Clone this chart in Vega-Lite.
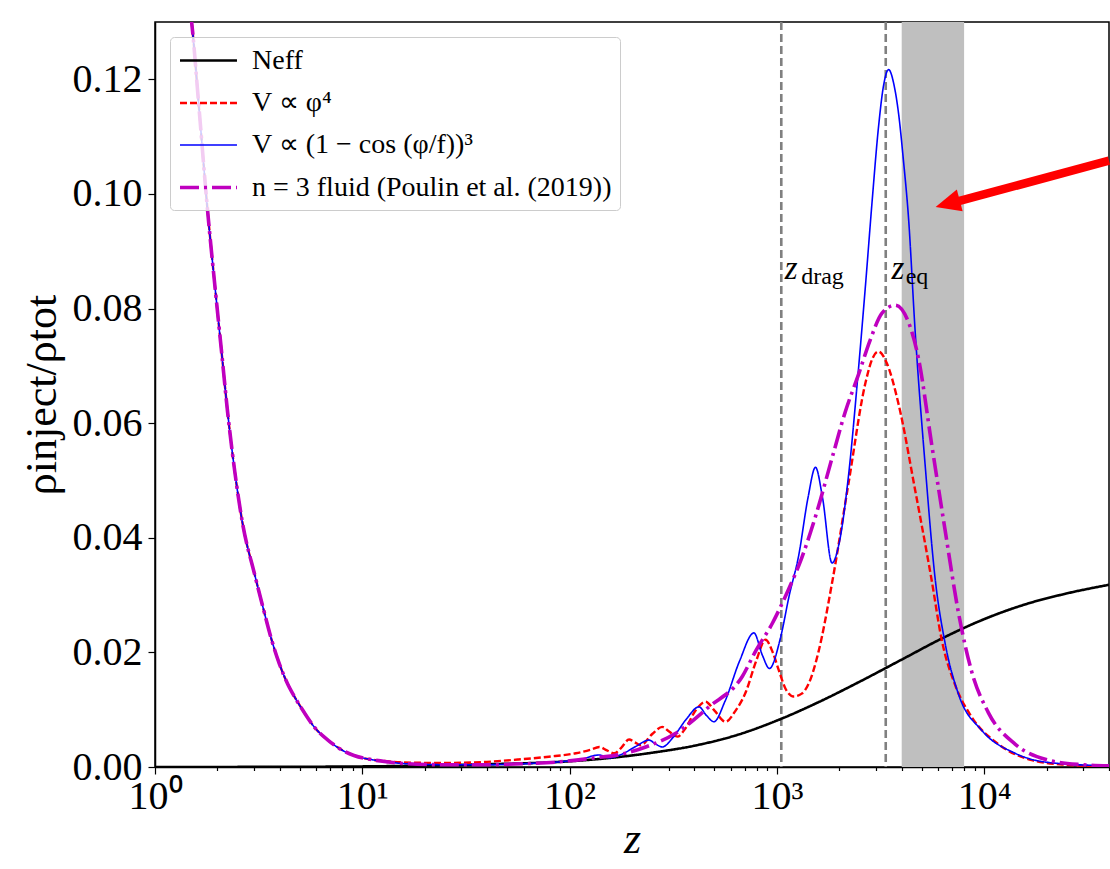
{
  "$schema": "https://vega.github.io/schema/vega-lite/v6.json",
  "width": 954,
  "height": 745,
  "autosize": {"type": "none"},
  "padding": {"left": 155, "top": 22, "right": 1, "bottom": 102},
  "background": "white",
  "config": {
    "font": "Liberation Serif",
    "view": {"stroke": "black", "strokeWidth": 1.5},
    "axis": {
      "grid": false,
      "labelFont": "Liberation Serif",
      "titleFont": "Liberation Serif",
      "labelFontSize": 40,
      "labelColor": "black",
      "titleColor": "black",
      "titleFontWeight": "normal",
      "domainColor": "black",
      "domainWidth": 1.5,
      "tickColor": "black",
      "tickWidth": 1.2
    },
    "legend": {
      "orient": "top-left",
      "offset": 15,
      "symbolType": "M -1 0 L 3.07 0",
      "symbolSize": 784,
      "labelFont": "Liberation Serif",
      "labelFontSize": 28,
      "labelColor": "black",
      "labelLimit": 600,
      "labelOffset": 42,
      "fillColor": "rgba(255,255,255,0.8)",
      "strokeColor": "#cccccc",
      "cornerRadius": 4,
      "padding": 8,
      "rowPadding": 12.5
    }
  },
  "layer": [
    {
      "data": {"values": [{"z1": 4000, "z2": 8000}]},
      "mark": {"type": "rect", "color": "#bfbfbf"},
      "encoding": {
        "x": {"field": "z1", "type": "quantitative", "scale": {"type": "log", "domain": [1, 40000], "nice": false}},
        "x2": {"field": "z2"}
      }
    },
    {
      "data": {"values": [{"z": 1050}, {"z": 3350}]},
      "mark": {"type": "rule", "color": "#808080", "strokeWidth": 2.6, "strokeDash": [8, 4]},
      "encoding": {
        "x": {"field": "z", "type": "quantitative", "scale": {"type": "log", "domain": [1, 40000], "nice": false}}
      }
    },
    {
      "data": {"values": [
        {"s": "a", "z": 1, "v": 0},
        {"s": "a", "z": 3.162, "v": 0.00002},
        {"s": "a", "z": 10, "v": 0.0001},
        {"s": "a", "z": 31.62, "v": 0.0004},
        {"s": "a", "z": 100, "v": 0.0010},
        {"s": "a", "z": 158.5, "v": 0.0016},
        {"s": "a", "z": 251.2, "v": 0.0025},
        {"s": "a", "z": 398.1, "v": 0.0037},
        {"s": "a", "z": 631.0, "v": 0.0055},
        {"s": "a", "z": 1000, "v": 0.0081},
        {"s": "a", "z": 1585, "v": 0.0113},
        {"s": "a", "z": 2512, "v": 0.0149},
        {"s": "a", "z": 3981, "v": 0.0187},
        {"s": "a", "z": 6310, "v": 0.0225},
        {"s": "a", "z": 10000, "v": 0.0258},
        {"s": "a", "z": 15849, "v": 0.0284},
        {"s": "a", "z": 25119, "v": 0.0303},
        {"s": "a", "z": 40000, "v": 0.0318},

        {"s": "b", "z": 1.413, "v": 0.1366},
        {"s": "b", "z": 1.502, "v": 0.130},
        {"s": "b", "z": 1.622, "v": 0.116},
        {"s": "b", "z": 1.774, "v": 0.099},
        {"s": "b", "z": 1.995, "v": 0.080},
        {"s": "b", "z": 2.094, "v": 0.0725},
        {"s": "b", "z": 2.239, "v": 0.062},
        {"s": "b", "z": 2.427, "v": 0.0515},
        {"s": "b", "z": 2.630, "v": 0.043},
        {"s": "b", "z": 3.030, "v": 0.0335},
        {"s": "b", "z": 3.311, "v": 0.028},
        {"s": "b", "z": 3.631, "v": 0.0225},
        {"s": "b", "z": 3.981, "v": 0.018},
        {"s": "b", "z": 4.365, "v": 0.0145},
        {"s": "b", "z": 4.721, "v": 0.0122},
        {"s": "b", "z": 5.248, "v": 0.0095},
        {"s": "b", "z": 5.888, "v": 0.0069},
        {"s": "b", "z": 6.823, "v": 0.0047},
        {"s": "b", "z": 7.943, "v": 0.0030},
        {"s": "b", "z": 9.120, "v": 0.0020},
        {"s": "b", "z": 11.04, "v": 0.0013},
        {"s": "b", "z": 13.18, "v": 0.0010},
        {"s": "b", "z": 15.85, "v": 0.0008},
        {"s": "b", "z": 25.12, "v": 0.0007},
        {"s": "b", "z": 39.81, "v": 0.0009},
        {"s": "b", "z": 56.23, "v": 0.0013},
        {"s": "b", "z": 79.43, "v": 0.0018},
        {"s": "b", "z": 107.2, "v": 0.0024},
        {"s": "b", "z": 125.9, "v": 0.0030},
        {"s": "b", "z": 139.0, "v": 0.0035},
        {"s": "b", "z": 151.4, "v": 0.0029},
        {"s": "b", "z": 164.1, "v": 0.0024},
        {"s": "b", "z": 177.8, "v": 0.0034},
        {"s": "b", "z": 193.6, "v": 0.0048},
        {"s": "b", "z": 206.5, "v": 0.0043},
        {"s": "b", "z": 220.3, "v": 0.0038},
        {"s": "b", "z": 251.2, "v": 0.0058},
        {"s": "b", "z": 279.9, "v": 0.0070},
        {"s": "b", "z": 302.0, "v": 0.0062},
        {"s": "b", "z": 331.1, "v": 0.0053},
        {"s": "b", "z": 363.1, "v": 0.0068},
        {"s": "b", "z": 407.4, "v": 0.0100},
        {"s": "b", "z": 452.9, "v": 0.0114},
        {"s": "b", "z": 501.2, "v": 0.0098},
        {"s": "b", "z": 564.9, "v": 0.0079},
        {"s": "b", "z": 631.0, "v": 0.0098},
        {"s": "b", "z": 706.3, "v": 0.0130},
        {"s": "b", "z": 794.3, "v": 0.0185},
        {"s": "b", "z": 881.0, "v": 0.0222},
        {"s": "b", "z": 955.0, "v": 0.0200},
        {"s": "b", "z": 1021, "v": 0.0169},
        {"s": "b", "z": 1096, "v": 0.0138},
        {"s": "b", "z": 1205, "v": 0.0123},
        {"s": "b", "z": 1318, "v": 0.0128},
        {"s": "b", "z": 1426, "v": 0.0146},
        {"s": "b", "z": 1585, "v": 0.0200},
        {"s": "b", "z": 1845, "v": 0.0321},
        {"s": "b", "z": 2218, "v": 0.0496},
        {"s": "b", "z": 2673, "v": 0.0670},
        {"s": "b", "z": 2884, "v": 0.0712},
        {"s": "b", "z": 3090, "v": 0.0725},
        {"s": "b", "z": 3388, "v": 0.0705},
        {"s": "b", "z": 3864, "v": 0.0633},
        {"s": "b", "z": 4645, "v": 0.0483},
        {"s": "b", "z": 5585, "v": 0.0325},
        {"s": "b", "z": 6237, "v": 0.0222},
        {"s": "b", "z": 7244, "v": 0.0143},
        {"s": "b", "z": 8710, "v": 0.0087},
        {"s": "b", "z": 11695, "v": 0.0040},
        {"s": "b", "z": 16943, "v": 0.0012},
        {"s": "b", "z": 24490, "v": 0.0004},
        {"s": "b", "z": 40000, "v": 0.0001},

        {"s": "c", "z": 1.413, "v": 0.1366},
        {"s": "c", "z": 1.502, "v": 0.130},
        {"s": "c", "z": 1.622, "v": 0.116},
        {"s": "c", "z": 1.774, "v": 0.099},
        {"s": "c", "z": 1.995, "v": 0.080},
        {"s": "c", "z": 2.094, "v": 0.0725},
        {"s": "c", "z": 2.239, "v": 0.062},
        {"s": "c", "z": 2.427, "v": 0.0515},
        {"s": "c", "z": 2.630, "v": 0.043},
        {"s": "c", "z": 3.030, "v": 0.0335},
        {"s": "c", "z": 3.311, "v": 0.028},
        {"s": "c", "z": 3.631, "v": 0.0225},
        {"s": "c", "z": 3.981, "v": 0.018},
        {"s": "c", "z": 4.365, "v": 0.0145},
        {"s": "c", "z": 4.721, "v": 0.0122},
        {"s": "c", "z": 5.248, "v": 0.0095},
        {"s": "c", "z": 5.888, "v": 0.0069},
        {"s": "c", "z": 6.823, "v": 0.0047},
        {"s": "c", "z": 7.943, "v": 0.0030},
        {"s": "c", "z": 9.120, "v": 0.0020},
        {"s": "c", "z": 11.04, "v": 0.0013},
        {"s": "c", "z": 13.18, "v": 0.0009},
        {"s": "c", "z": 15.85, "v": 0.0006},
        {"s": "c", "z": 25.12, "v": 0.0004},
        {"s": "c", "z": 39.81, "v": 0.0004},
        {"s": "c", "z": 63.10, "v": 0.0006},
        {"s": "c", "z": 89.13, "v": 0.0009},
        {"s": "c", "z": 112.2, "v": 0.0013},
        {"s": "c", "z": 139.0, "v": 0.0021},
        {"s": "c", "z": 154.9, "v": 0.0016},
        {"s": "c", "z": 177.8, "v": 0.0022},
        {"s": "c", "z": 208.9, "v": 0.0036},
        {"s": "c", "z": 241.5, "v": 0.0047},
        {"s": "c", "z": 260.0, "v": 0.0040},
        {"s": "c", "z": 279.9, "v": 0.0035},
        {"s": "c", "z": 316.2, "v": 0.0052},
        {"s": "c", "z": 363.1, "v": 0.0082},
        {"s": "c", "z": 420.7, "v": 0.0105},
        {"s": "c", "z": 457.1, "v": 0.0090},
        {"s": "c", "z": 496.6, "v": 0.0079},
        {"s": "c", "z": 562.3, "v": 0.0115},
        {"s": "c", "z": 660.7, "v": 0.0185},
        {"s": "c", "z": 774.5, "v": 0.0234},
        {"s": "c", "z": 851.1, "v": 0.0195},
        {"s": "c", "z": 920.4, "v": 0.0172},
        {"s": "c", "z": 1040, "v": 0.0225},
        {"s": "c", "z": 1148, "v": 0.0300},
        {"s": "c", "z": 1274, "v": 0.0369},
        {"s": "c", "z": 1413, "v": 0.0470},
        {"s": "c", "z": 1535, "v": 0.0523},
        {"s": "c", "z": 1660, "v": 0.0470},
        {"s": "c", "z": 1845, "v": 0.0356},
        {"s": "c", "z": 1995, "v": 0.0390},
        {"s": "c", "z": 2218, "v": 0.0510},
        {"s": "c", "z": 2455, "v": 0.0680},
        {"s": "c", "z": 2673, "v": 0.0839},
        {"s": "c", "z": 2884, "v": 0.0990},
        {"s": "c", "z": 3090, "v": 0.1116},
        {"s": "c", "z": 3273, "v": 0.1190},
        {"s": "c", "z": 3459, "v": 0.1217},
        {"s": "c", "z": 3673, "v": 0.1190},
        {"s": "c", "z": 3864, "v": 0.1140},
        {"s": "c", "z": 4074, "v": 0.1060},
        {"s": "c", "z": 4315, "v": 0.0958},
        {"s": "c", "z": 4645, "v": 0.0760},
        {"s": "c", "z": 5200, "v": 0.0523},
        {"s": "c", "z": 5794, "v": 0.0330},
        {"s": "c", "z": 6486, "v": 0.0215},
        {"s": "c", "z": 7516, "v": 0.0127},
        {"s": "c", "z": 9727, "v": 0.0064},
        {"s": "c", "z": 14093, "v": 0.0024},
        {"s": "c", "z": 20370, "v": 0.0008},
        {"s": "c", "z": 40000, "v": 0.0002},

        {"s": "d", "z": 1.413, "v": 0.1366},
        {"s": "d", "z": 1.502, "v": 0.130},
        {"s": "d", "z": 1.622, "v": 0.116},
        {"s": "d", "z": 1.774, "v": 0.099},
        {"s": "d", "z": 1.995, "v": 0.080},
        {"s": "d", "z": 2.094, "v": 0.0725},
        {"s": "d", "z": 2.239, "v": 0.062},
        {"s": "d", "z": 2.427, "v": 0.0515},
        {"s": "d", "z": 2.630, "v": 0.043},
        {"s": "d", "z": 3.030, "v": 0.0335},
        {"s": "d", "z": 3.311, "v": 0.028},
        {"s": "d", "z": 3.631, "v": 0.0225},
        {"s": "d", "z": 3.981, "v": 0.018},
        {"s": "d", "z": 4.365, "v": 0.0145},
        {"s": "d", "z": 4.721, "v": 0.0122},
        {"s": "d", "z": 5.248, "v": 0.0095},
        {"s": "d", "z": 5.888, "v": 0.0069},
        {"s": "d", "z": 6.823, "v": 0.0047},
        {"s": "d", "z": 7.943, "v": 0.0030},
        {"s": "d", "z": 9.120, "v": 0.0020},
        {"s": "d", "z": 11.04, "v": 0.0013},
        {"s": "d", "z": 13.18, "v": 0.0009},
        {"s": "d", "z": 15.85, "v": 0.0006},
        {"s": "d", "z": 25.12, "v": 0.0004},
        {"s": "d", "z": 39.81, "v": 0.0004},
        {"s": "d", "z": 63.10, "v": 0.0006},
        {"s": "d", "z": 89.13, "v": 0.0009},
        {"s": "d", "z": 125.9, "v": 0.0015},
        {"s": "d", "z": 186.6, "v": 0.0024},
        {"s": "d", "z": 232.8, "v": 0.0035},
        {"s": "d", "z": 325.1, "v": 0.0059},
        {"s": "d", "z": 469.9, "v": 0.0105},
        {"s": "d", "z": 680.8, "v": 0.0158},
        {"s": "d", "z": 794.3, "v": 0.0204},
        {"s": "d", "z": 948.4, "v": 0.0250},
        {"s": "d", "z": 1122, "v": 0.0305},
        {"s": "d", "z": 1318, "v": 0.0365},
        {"s": "d", "z": 1535, "v": 0.0437},
        {"s": "d", "z": 1845, "v": 0.0539},
        {"s": "d", "z": 2138, "v": 0.0620},
        {"s": "d", "z": 2477, "v": 0.0685},
        {"s": "d", "z": 2818, "v": 0.0745},
        {"s": "d", "z": 3214, "v": 0.0792},
        {"s": "d", "z": 3724, "v": 0.0806},
        {"s": "d", "z": 4315, "v": 0.0776},
        {"s": "d", "z": 4819, "v": 0.0713},
        {"s": "d", "z": 5585, "v": 0.0562},
        {"s": "d", "z": 6486, "v": 0.0412},
        {"s": "d", "z": 7516, "v": 0.0269},
        {"s": "d", "z": 8710, "v": 0.0166},
        {"s": "d", "z": 10471, "v": 0.0095},
        {"s": "d", "z": 14093, "v": 0.0040},
        {"s": "d", "z": 20370, "v": 0.0012},
        {"s": "d", "z": 29512, "v": 0.0004},
        {"s": "d", "z": 40000, "v": 0.0002}
      ]},
      "mark": {"type": "line", "interpolate": "monotone", "clip": true},
      "encoding": {
        "x": {
          "field": "z", "type": "quantitative",
          "scale": {"type": "log", "domain": [1, 40000], "nice": false},
          "axis": {
            "title": "z",
            "titleFontStyle": "italic",
            "titleFontSize": 44,
            "titlePadding": 1,
            "values": [1,2,3,4,5,6,7,8,9,10,20,30,40,50,60,70,80,90,100,200,300,400,500,600,700,800,900,1000,2000,3000,4000,5000,6000,7000,8000,9000,10000,20000,30000,40000],
            "labelExpr": "datum.value == 1 ? '10⁰' : datum.value == 10 ? '10¹' : datum.value == 100 ? '10²' : datum.value == 1000 ? '10³' : datum.value == 10000 ? '10⁴' : ''",
            "tickSize": {"condition": {"test": "indexof([1,10,100,1000,10000], datum.value) >= 0", "value": 7}, "value": 3.5},
            "labelPadding": 2,
            "labelFlush": false,
            "labelOverlap": false
          }
        },
        "y": {
          "field": "v", "type": "quantitative",
          "scale": {"domain": [0, 0.13], "nice": false, "zero": false},
          "axis": {
            "title": "ρinject/ρtot",
            "titleFontSize": 44,
            "titlePadding": 8,
            "values": [0, 0.02, 0.04, 0.06, 0.08, 0.1, 0.12],
            "format": ".2f",
            "tickSize": 7,
            "labelPadding": 6
          }
        },
        "color": {
          "field": "s", "type": "nominal",
          "scale": {"domain": ["a", "b", "c", "d"], "range": ["#000000", "#ff0000", "#0000ff", "#bf00bf"]},
          "legend": {
            "title": null,
            "labelExpr": "datum.label == 'a' ? 'Neff' : datum.label == 'b' ? 'V ∝ φ⁴' : datum.label == 'c' ? 'V ∝ (1 − cos (φ/f))³' : 'n = 3 fluid (Poulin et al. (2019))'"
          }
        },
        "strokeDash": {
          "field": "s", "type": "nominal",
          "scale": {"domain": ["a", "b", "c", "d"], "range": [[1, 0], [7, 3], [1, 0], [19, 5, 3, 5]]},
          "legend": {
            "title": null,
            "labelExpr": "datum.label == 'a' ? 'Neff' : datum.label == 'b' ? 'V ∝ φ⁴' : datum.label == 'c' ? 'V ∝ (1 − cos (φ/f))³' : 'n = 3 fluid (Poulin et al. (2019))'"
          }
        },
        "strokeWidth": {
          "field": "s", "type": "nominal",
          "scale": {"type": "ordinal", "domain": ["a", "b", "c", "d"], "range": [2.6, 2.4, 1.6, 3.6]},
          "legend": {
            "title": null,
            "labelExpr": "datum.label == 'a' ? 'Neff' : datum.label == 'b' ? 'V ∝ φ⁴' : datum.label == 'c' ? 'V ∝ (1 − cos (φ/f))³' : 'n = 3 fluid (Poulin et al. (2019))'"
          }
        }
      }
    },
    {
      "data": {"values": [{"z": 7300, "v": 0.0986, "z2": 40000, "v2": 0.1058}]},
      "mark": {"type": "rule", "color": "#ff0000", "strokeWidth": 8.5},
      "encoding": {
        "x": {"field": "z", "type": "quantitative", "scale": {"type": "log", "domain": [1, 40000], "nice": false}},
        "x2": {"field": "z2"},
        "y": {"field": "v", "type": "quantitative", "scale": {"domain": [0, 0.13], "nice": false, "zero": false}},
        "y2": {"field": "v2"}
      }
    },
    {
      "data": {"values": [{"z": 6665, "v": 0.0983}]},
      "mark": {"type": "point", "shape": "M -1 0 L 1 -0.9 L 1 0.9 Z", "size": 625, "angle": -15, "filled": true, "color": "#ff0000", "opacity": 1},
      "encoding": {
        "x": {"field": "z", "type": "quantitative", "scale": {"type": "log", "domain": [1, 40000], "nice": false}},
        "y": {"field": "v", "type": "quantitative", "scale": {"domain": [0, 0.13], "nice": false, "zero": false}}
      }
    },
    {
      "data": {"values": [{"z": 1092, "v": 0.0851, "t": "z"}, {"z": 3573, "v": 0.0851, "t": "z"}]},
      "mark": {"type": "text", "font": "Liberation Serif", "fontStyle": "italic", "fontSize": 33, "align": "left", "baseline": "alphabetic", "color": "black"},
      "encoding": {
        "x": {"field": "z", "type": "quantitative", "scale": {"type": "log", "domain": [1, 40000], "nice": false}},
        "y": {"field": "v", "type": "quantitative", "scale": {"domain": [0, 0.13], "nice": false, "zero": false}},
        "text": {"field": "t"}
      }
    },
    {
      "data": {"values": [{"z": 1310, "v": 0.0843, "t": "drag"}, {"z": 4180, "v": 0.0843, "t": "eq"}]},
      "mark": {"type": "text", "font": "Liberation Serif", "fontSize": 24, "align": "left", "baseline": "alphabetic", "color": "black"},
      "encoding": {
        "x": {"field": "z", "type": "quantitative", "scale": {"type": "log", "domain": [1, 40000], "nice": false}},
        "y": {"field": "v", "type": "quantitative", "scale": {"domain": [0, 0.13], "nice": false, "zero": false}},
        "text": {"field": "t"}
      }
    }
  ]
}
